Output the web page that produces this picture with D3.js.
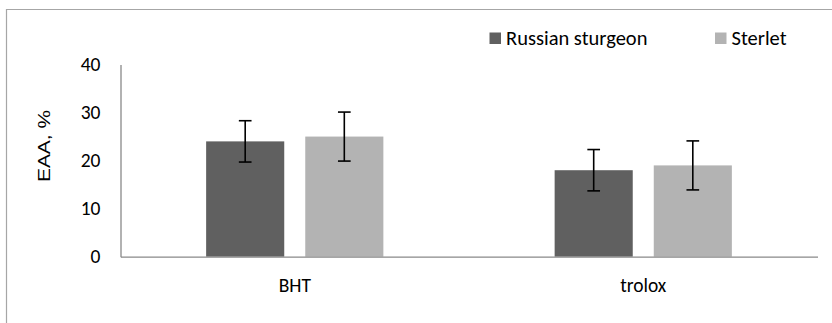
<!DOCTYPE html>
<html>
<head>
<meta charset="utf-8">
<script src="https://cdn.jsdelivr.net/npm/d3@7"></script>
<style>
  html, body { margin: 0; padding: 0; background: #fff; }
  svg { display: block; }
</style>
</head>
<body>
<svg id="chart" width="832" height="323"></svg>
<script>
const categories = ["BHT", "trolox"];
const seriesNames = ["Russian sturgeon", "Sterlet"];
const russianSturgeon = [24.0, 18.0];
const sterlet = [25.0, 19.0];
const russianSturgeonErr = [4.3, 4.3];
const sterletErr = [5.1, 5.1];
const yTicks = [0, 10, 20, 30, 40];
const yTitle = "EAA,  %";

const colors = ["#606060", "#b3b3b3"];
const values = [russianSturgeon, sterlet];
const errors = [russianSturgeonErr, sterletErr];

const svg = d3.select("#chart");
const calibri = "Carlito, Calibri, Lato, 'Open Sans', sans-serif";

// outer chart border
svg.append("path")
  .attr("d", "M6.5,323 V9.5 H832")
  .attr("fill", "none").attr("stroke", "#a6a6a6").attr("stroke-width", 1.2);

const plotLeft = 120.5, plotRight = 817.5, plotTop = 64.5, plotBottom = 256.7;

const y = d3.scaleLinear().domain([0, 40]).range([plotBottom, plotTop]);
const x = d3.scaleBand().domain(categories).range([plotLeft, plotRight]).padding(0);
const xs = d3.scaleBand().domain(seriesNames).range([0, x.bandwidth()])
  .paddingInner(0.212).paddingOuter(0.864);

// bars
seriesNames.forEach((s, si) => {
  svg.append("g").selectAll("rect")
    .data(categories)
    .join("rect")
    .attr("x", c => x(c) + xs(s))
    .attr("width", xs.bandwidth())
    .attr("y", (c, i) => y(values[si][i]))
    .attr("height", (c, i) => y(0) - y(values[si][i]))
    .attr("fill", colors[si]);
});

// error bars
const capW = 12.7;
seriesNames.forEach((s, si) => {
  const g = svg.append("g").attr("stroke", "#000").attr("stroke-width", 1.6).attr("fill", "none");
  categories.forEach((c, i) => {
    const cx = x(c) + xs(s) + xs.bandwidth() / 2;
    const hi = y(values[si][i] + errors[si][i]);
    const lo = y(values[si][i] - errors[si][i]);
    g.append("line").attr("x1", cx).attr("x2", cx).attr("y1", hi).attr("y2", lo);
    g.append("line").attr("x1", cx - capW / 2).attr("x2", cx + capW / 2).attr("y1", hi).attr("y2", hi);
    g.append("line").attr("x1", cx - capW / 2).attr("x2", cx + capW / 2).attr("y1", lo).attr("y2", lo);
  });
});

// y axis
const yAxis = d3.axisLeft(y).tickValues(yTicks).tickSize(0).tickPadding(20).tickFormat(d3.format("d"));
const gy = svg.append("g").attr("transform", `translate(${plotLeft},0)`).call(yAxis);
gy.select(".domain").attr("stroke", "#898989").attr("stroke-width", 1.3);
gy.selectAll("text").attr("font-family", calibri).attr("font-size", 19.5).attr("font-weight", 400).attr("fill", "#000");

// x axis
const xAxis = d3.axisBottom(x).tickSize(0).tickPadding(21);
const gx = svg.append("g").attr("transform", `translate(0,${plotBottom})`).call(xAxis);
gx.select(".domain").attr("stroke", "#898989").attr("stroke-width", 1.3);
gx.selectAll("text").attr("font-family", calibri).attr("font-size", 19.5).attr("font-weight", 400).attr("fill", "#000");

// y title
svg.append("text")
  .attr("transform", `translate(50,146) rotate(-90)`)
  .attr("text-anchor", "middle")
  .attr("font-family", "'Liberation Sans', Arial, sans-serif")
  .attr("font-size", 16.5)
  .attr("textLength", 72)
  .attr("lengthAdjust", "spacingAndGlyphs")
  .attr("fill", "#000")
  .text(yTitle);

// legend
const legendX = [489.5, 715];
const lg = svg.append("g");
seriesNames.forEach((s, si) => {
  lg.append("rect").attr("x", legendX[si]).attr("y", 32.5).attr("width", 11.5).attr("height", 11.5).attr("fill", colors[si]);
  lg.append("text").attr("x", legendX[si] + 16.5).attr("y", 44.5)
    .attr("font-family", calibri).attr("font-size", 20.5).attr("font-weight", 400).attr("fill", "#000")
    .text(s);
});
</script>
</body>
</html>
